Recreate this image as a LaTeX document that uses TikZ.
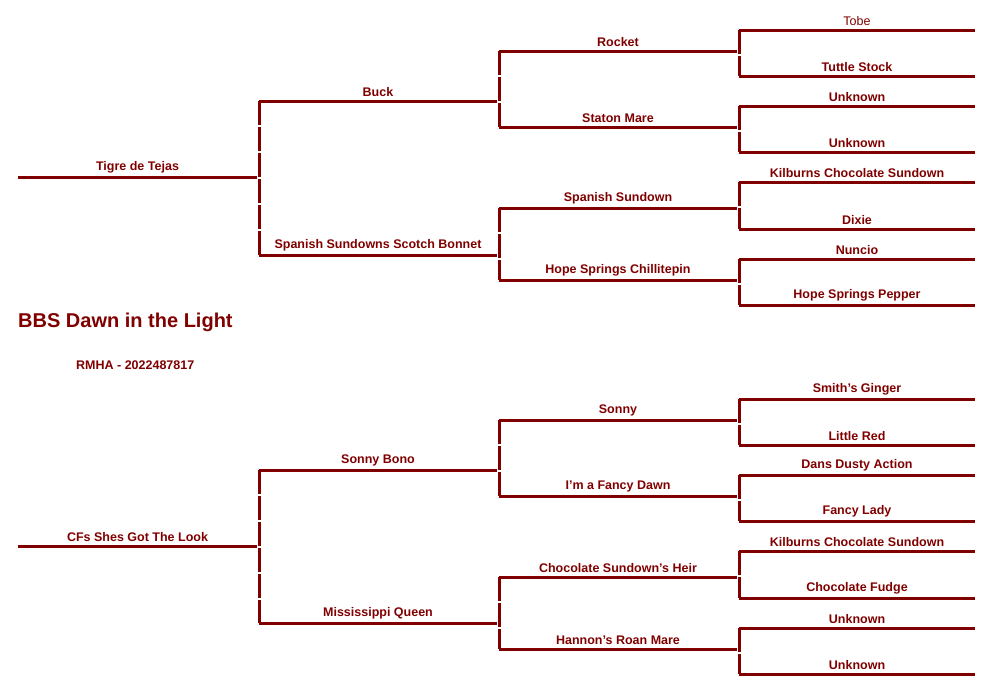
\documentclass[tikz,border=0pt]{standalone}
\usepackage{fontspec}
\setmainfont{Liberation Sans}
\usetikzlibrary{calc}
\definecolor{ped}{HTML}{800000}
\newcommand\pedhor[5]{\coordinate (#1a) at (#2,#4); \coordinate (#1b) at (#3,#4);
  \draw[hl] (#1a) -- (#1b); \node[lab] (#1t) at ($(#1a)!0.5!(#1b)$) {#5};}
\newcommand\pedver[3]{\draw[vl] (#1) -- (#2 -| #1) node[coordinate,name=#3]{};}
\begin{document}
\begin{tikzpicture}[x=1pt,y=-1pt,
  hl/.style={draw=ped,line width=3pt},
  vl/.style={draw=ped,line width=3pt,dash pattern=on 24pt off 2pt},
  lab/.style={text=ped,font=\fontsize{12.5}{14}\selectfont\bfseries,anchor=south,inner sep=0pt,yshift=4pt}]
\useasboundingbox (0,0) rectangle (985,678);
% top half
\pedhor{g1}{18}{257}{177}{Tigre de Tejas}
\pedhor{g2}{259}{497}{101}{Buck}
\pedhor{g3}{259}{497}{255}{Spanish Sundowns Scotch Bonnet}
\pedhor{g4}{499}{737}{51}{Rocket}
\pedhor{g5}{499}{737}{127}{Staton Mare}
\pedhor{g6}{499}{737}{208}{Spanish Sundown}
\pedhor{g7}{499}{737}{280}{Hope Springs Chillitepin}
\pedhor{g8}{739}{975}{30}{\mdseries Tobe}
\pedhor{g9}{739}{975}{76}{Tuttle Stock}
\pedhor{g10}{739}{975}{106}{Unknown}
\pedhor{g11}{739}{975}{152}{Unknown}
\pedhor{g12}{739}{975}{182}{Kilburns Chocolate Sundown}
\pedhor{g13}{739}{975}{229}{Dixie}
\pedhor{g14}{739}{975}{259}{Nuncio}
\pedhor{g15}{739}{975}{305}{Hope Springs Pepper}
\draw[vl] (g2a) -- (g3a);
\draw[vl] (g4a) -- (g5a);
\draw[vl] (g6a) -- (g7a);
\draw[vl] (g8a) -- (g9a);
\draw[vl] (g10a) -- (g11a);
\draw[vl] (g12a) -- (g13a);
\draw[vl] (g14a) -- (g15a);
% title
\node[text=ped,font=\fontsize{20}{24}\selectfont\bfseries,anchor=west,inner sep=0pt] (title) at (18,322) {BBS Dawn in the Light};
\node[text=ped,font=\fontsize{12.5}{14}\selectfont\bfseries,anchor=west,inner sep=0pt] (reg) at (76,365) {RMHA - 2022487817};
% bottom half
\pedhor{d1}{18}{257}{546}{CFs Shes Got The Look}
\pedhor{d2}{259}{497}{470}{Sonny Bono}
\pedhor{d3}{259}{497}{623}{Mississippi Queen}
\pedhor{d4}{499}{737}{420}{Sonny}
\pedhor{d5}{499}{737}{496}{I'm a Fancy Dawn}
\pedhor{d6}{499}{737}{577}{Chocolate Sundown's Heir}
\pedhor{d7}{499}{737}{649}{Hannon's Roan Mare}
\pedhor{d8}{739}{975}{399}{Smith's Ginger}
\pedhor{d9}{739}{975}{445}{Little Red}
\pedhor{d10}{739}{975}{475}{Dans Dusty Action}
\pedhor{d11}{739}{975}{521}{Fancy Lady}
\pedhor{d12}{739}{975}{551}{Kilburns Chocolate Sundown}
\pedhor{d13}{739}{975}{598}{Chocolate Fudge}
\pedhor{d14}{739}{975}{628}{Unknown}
\pedhor{d15}{739}{975}{674}{Unknown}
\draw[vl] (d2a) -- (d3a);
\draw[vl] (d4a) -- (d5a);
\draw[vl] (d6a) -- (d7a);
\draw[vl] (d8a) -- (d9a);
\draw[vl] (d10a) -- (d11a);
\draw[vl] (d12a) -- (d13a);
\draw[vl] (d14a) -- (d15a);
\end{tikzpicture}
\end{document}
